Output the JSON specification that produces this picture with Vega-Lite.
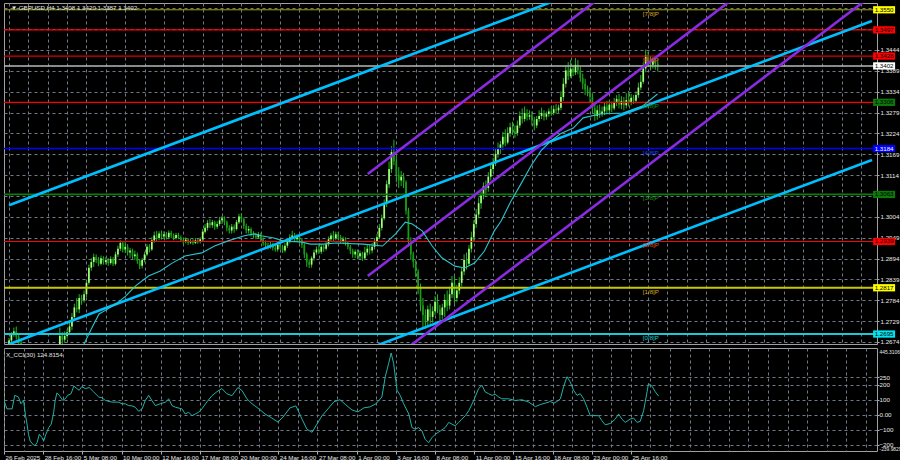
{
"$schema": "https://vega.github.io/schema/vega-lite/v6.json",
"background": "#000000",
"padding": {"left": 2, "top": 2, "right": 0, "bottom": 0},
"spacing": 1,
"config": {
  "view": {"stroke": "#A0A0A0", "strokeWidth": 1},
  "font": "Liberation Sans",
  "axis": {"labelColor": "#E8E8E8", "labelFont": "Liberation Sans", "labelFontSize": 6.2, "gridColor": "#6F7A86", "gridDash": [3, 3], "gridWidth": 1, "domain": false, "tickColor": "#B0B0B0"}
},
"datasets": {
  "candles": [
{"i":0,"o":1.2660,"h":1.2685,"l":1.2652,"c":1.2678},
{"i":1,"o":1.2678,"h":1.2700,"l":1.2672,"c":1.2693},
{"i":2,"o":1.2693,"h":1.2712,"l":1.2688,"c":1.2702},
{"i":3,"o":1.2702,"h":1.2715,"l":1.2680,"c":1.2688},
{"i":4,"o":1.2688,"h":1.2694,"l":1.2665,"c":1.2672},
{"i":5,"o":1.2672,"h":1.2678,"l":1.2652,"c":1.2660},
{"i":6,"o":1.2660,"h":1.2668,"l":1.2640,"c":1.2648},
{"i":7,"o":1.2648,"h":1.2662,"l":1.2642,"c":1.2655},
{"i":8,"o":1.2655,"h":1.2660,"l":1.2622,"c":1.2630},
{"i":9,"o":1.2630,"h":1.2636,"l":1.2598,"c":1.2605},
{"i":10,"o":1.2605,"h":1.2612,"l":1.2582,"c":1.2590},
{"i":11,"o":1.2590,"h":1.2605,"l":1.2584,"c":1.2598},
{"i":12,"o":1.2598,"h":1.2603,"l":1.2578,"c":1.2585},
{"i":13,"o":1.2585,"h":1.2608,"l":1.2580,"c":1.2600},
{"i":14,"o":1.2600,"h":1.2605,"l":1.2568,"c":1.2575},
{"i":15,"o":1.2575,"h":1.2582,"l":1.2558,"c":1.2565},
{"i":16,"o":1.2565,"h":1.2588,"l":1.2560,"c":1.2580},
{"i":17,"o":1.2580,"h":1.2590,"l":1.2572,"c":1.2582},
{"i":18,"o":1.2582,"h":1.2612,"l":1.2578,"c":1.2605},
{"i":19,"o":1.2605,"h":1.2628,"l":1.2598,"c":1.2620},
{"i":20,"o":1.2620,"h":1.2658,"l":1.2615,"c":1.2650},
{"i":21,"o":1.2650,"h":1.2712,"l":1.2645,"c":1.2690},
{"i":22,"o":1.2690,"h":1.2700,"l":1.2665,"c":1.2680},
{"i":23,"o":1.2680,"h":1.2702,"l":1.2672,"c":1.2690},
{"i":24,"o":1.2690,"h":1.2708,"l":1.2683,"c":1.2700},
{"i":25,"o":1.2700,"h":1.2728,"l":1.2695,"c":1.2715},
{"i":26,"o":1.2715,"h":1.2750,"l":1.2705,"c":1.2740},
{"i":27,"o":1.2740,"h":1.2775,"l":1.2732,"c":1.2765},
{"i":28,"o":1.2765,"h":1.2790,"l":1.2752,"c":1.2760},
{"i":29,"o":1.2760,"h":1.2800,"l":1.2750,"c":1.2790},
{"i":30,"o":1.2790,"h":1.2798,"l":1.2772,"c":1.2785},
{"i":31,"o":1.2785,"h":1.2810,"l":1.2778,"c":1.2800},
{"i":32,"o":1.2800,"h":1.2838,"l":1.2792,"c":1.2830},
{"i":33,"o":1.2830,"h":1.2878,"l":1.2825,"c":1.2870},
{"i":34,"o":1.2870,"h":1.2895,"l":1.2862,"c":1.2885},
{"i":35,"o":1.2885,"h":1.2907,"l":1.2872,"c":1.2898},
{"i":36,"o":1.2898,"h":1.2905,"l":1.2882,"c":1.2890},
{"i":37,"o":1.2890,"h":1.2898,"l":1.2874,"c":1.2880},
{"i":38,"o":1.2880,"h":1.2902,"l":1.2876,"c":1.2895},
{"i":39,"o":1.2895,"h":1.2900,"l":1.2878,"c":1.2885},
{"i":40,"o":1.2885,"h":1.2898,"l":1.2878,"c":1.2890},
{"i":41,"o":1.2890,"h":1.2895,"l":1.2875,"c":1.2882},
{"i":42,"o":1.2882,"h":1.2900,"l":1.2878,"c":1.2893},
{"i":43,"o":1.2893,"h":1.2898,"l":1.2874,"c":1.2880},
{"i":44,"o":1.2880,"h":1.2912,"l":1.2876,"c":1.2905},
{"i":45,"o":1.2905,"h":1.2928,"l":1.2898,"c":1.2920},
{"i":46,"o":1.2920,"h":1.2942,"l":1.2914,"c":1.2935},
{"i":47,"o":1.2935,"h":1.2940,"l":1.2910,"c":1.2918},
{"i":48,"o":1.2918,"h":1.2940,"l":1.2908,"c":1.2925},
{"i":49,"o":1.2925,"h":1.2932,"l":1.2902,"c":1.2910},
{"i":50,"o":1.2910,"h":1.2922,"l":1.2895,"c":1.2915},
{"i":51,"o":1.2915,"h":1.2920,"l":1.2892,"c":1.2900},
{"i":52,"o":1.2900,"h":1.2915,"l":1.2890,"c":1.2905},
{"i":53,"o":1.2905,"h":1.2910,"l":1.2880,"c":1.2888},
{"i":54,"o":1.2888,"h":1.2893,"l":1.2866,"c":1.2875},
{"i":55,"o":1.2875,"h":1.2896,"l":1.2868,"c":1.2890},
{"i":56,"o":1.2890,"h":1.2912,"l":1.2884,"c":1.2905},
{"i":57,"o":1.2905,"h":1.2932,"l":1.2900,"c":1.2925},
{"i":58,"o":1.2925,"h":1.2932,"l":1.2910,"c":1.2918},
{"i":59,"o":1.2918,"h":1.2950,"l":1.2914,"c":1.2942},
{"i":60,"o":1.2942,"h":1.2965,"l":1.2936,"c":1.2955},
{"i":61,"o":1.2955,"h":1.2967,"l":1.2940,"c":1.2948},
{"i":62,"o":1.2948,"h":1.2966,"l":1.2942,"c":1.2960},
{"i":63,"o":1.2960,"h":1.2968,"l":1.2944,"c":1.2952},
{"i":64,"o":1.2952,"h":1.2966,"l":1.2945,"c":1.2958},
{"i":65,"o":1.2958,"h":1.2964,"l":1.2944,"c":1.2950},
{"i":66,"o":1.2950,"h":1.2968,"l":1.2945,"c":1.2962},
{"i":67,"o":1.2962,"h":1.2967,"l":1.2948,"c":1.2955},
{"i":68,"o":1.2955,"h":1.2960,"l":1.2942,"c":1.2948},
{"i":69,"o":1.2948,"h":1.2962,"l":1.2944,"c":1.2956},
{"i":70,"o":1.2956,"h":1.2962,"l":1.2945,"c":1.2950},
{"i":71,"o":1.2950,"h":1.2955,"l":1.2938,"c":1.2942},
{"i":72,"o":1.2942,"h":1.2948,"l":1.2932,"c":1.2938},
{"i":73,"o":1.2938,"h":1.2950,"l":1.2934,"c":1.2944},
{"i":74,"o":1.2944,"h":1.2948,"l":1.2930,"c":1.2936},
{"i":75,"o":1.2936,"h":1.2946,"l":1.2932,"c":1.2940},
{"i":76,"o":1.2940,"h":1.2945,"l":1.2930,"c":1.2935},
{"i":77,"o":1.2935,"h":1.2948,"l":1.2932,"c":1.2942},
{"i":78,"o":1.2942,"h":1.2947,"l":1.2933,"c":1.2938},
{"i":79,"o":1.2938,"h":1.2950,"l":1.2934,"c":1.2945},
{"i":80,"o":1.2945,"h":1.2972,"l":1.2940,"c":1.2965},
{"i":81,"o":1.2965,"h":1.2985,"l":1.2960,"c":1.2975},
{"i":82,"o":1.2975,"h":1.2995,"l":1.2968,"c":1.2988},
{"i":83,"o":1.2988,"h":1.2998,"l":1.2975,"c":1.2982},
{"i":84,"o":1.2982,"h":1.2996,"l":1.2975,"c":1.2990},
{"i":85,"o":1.2990,"h":1.2994,"l":1.2970,"c":1.2978},
{"i":86,"o":1.2978,"h":1.2992,"l":1.2972,"c":1.2985},
{"i":87,"o":1.2985,"h":1.3004,"l":1.2980,"c":1.2995},
{"i":88,"o":1.2995,"h":1.3006,"l":1.2985,"c":1.3000},
{"i":89,"o":1.3000,"h":1.3005,"l":1.2982,"c":1.2990},
{"i":90,"o":1.2990,"h":1.2994,"l":1.2966,"c":1.2975},
{"i":91,"o":1.2975,"h":1.2982,"l":1.2960,"c":1.2968},
{"i":92,"o":1.2968,"h":1.2985,"l":1.2960,"c":1.2978},
{"i":93,"o":1.2978,"h":1.2984,"l":1.2962,"c":1.2972},
{"i":94,"o":1.2972,"h":1.2996,"l":1.2968,"c":1.2990},
{"i":95,"o":1.2990,"h":1.3012,"l":1.2985,"c":1.3005},
{"i":96,"o":1.3005,"h":1.3014,"l":1.2990,"c":1.2998},
{"i":97,"o":1.2998,"h":1.3002,"l":1.2972,"c":1.2980},
{"i":98,"o":1.2980,"h":1.2986,"l":1.2960,"c":1.2968},
{"i":99,"o":1.2968,"h":1.2980,"l":1.2960,"c":1.2972},
{"i":100,"o":1.2972,"h":1.2976,"l":1.2952,"c":1.2960},
{"i":101,"o":1.2960,"h":1.2966,"l":1.2948,"c":1.2955},
{"i":102,"o":1.2955,"h":1.2962,"l":1.2945,"c":1.2950},
{"i":103,"o":1.2950,"h":1.2964,"l":1.2946,"c":1.2958},
{"i":104,"o":1.2958,"h":1.2962,"l":1.2940,"c":1.2945},
{"i":105,"o":1.2945,"h":1.2950,"l":1.2928,"c":1.2935},
{"i":106,"o":1.2935,"h":1.2942,"l":1.2922,"c":1.2930},
{"i":107,"o":1.2930,"h":1.2936,"l":1.2918,"c":1.2925},
{"i":108,"o":1.2925,"h":1.2938,"l":1.2920,"c":1.2930},
{"i":109,"o":1.2930,"h":1.2936,"l":1.2915,"c":1.2922},
{"i":110,"o":1.2922,"h":1.2930,"l":1.2912,"c":1.2918},
{"i":111,"o":1.2918,"h":1.2940,"l":1.2912,"c":1.2930},
{"i":112,"o":1.2930,"h":1.2945,"l":1.2918,"c":1.2925},
{"i":113,"o":1.2925,"h":1.2930,"l":1.2909,"c":1.2915},
{"i":114,"o":1.2915,"h":1.2935,"l":1.2910,"c":1.2928},
{"i":115,"o":1.2928,"h":1.2946,"l":1.2922,"c":1.2940},
{"i":116,"o":1.2940,"h":1.2958,"l":1.2934,"c":1.2950},
{"i":117,"o":1.2950,"h":1.2967,"l":1.2944,"c":1.2955},
{"i":118,"o":1.2955,"h":1.2962,"l":1.2938,"c":1.2945},
{"i":119,"o":1.2945,"h":1.2958,"l":1.2938,"c":1.2950},
{"i":120,"o":1.2950,"h":1.2956,"l":1.2934,"c":1.2942},
{"i":121,"o":1.2942,"h":1.2948,"l":1.2922,"c":1.2930},
{"i":122,"o":1.2930,"h":1.2934,"l":1.2895,"c":1.2905},
{"i":123,"o":1.2905,"h":1.2910,"l":1.2872,"c":1.2885},
{"i":124,"o":1.2885,"h":1.2892,"l":1.2869,"c":1.2878},
{"i":125,"o":1.2878,"h":1.2900,"l":1.2870,"c":1.2895},
{"i":126,"o":1.2895,"h":1.2918,"l":1.2888,"c":1.2910},
{"i":127,"o":1.2910,"h":1.2926,"l":1.2904,"c":1.2918},
{"i":128,"o":1.2918,"h":1.2930,"l":1.2906,"c":1.2912},
{"i":129,"o":1.2912,"h":1.2932,"l":1.2906,"c":1.2925},
{"i":130,"o":1.2925,"h":1.2930,"l":1.2912,"c":1.2920},
{"i":131,"o":1.2920,"h":1.2940,"l":1.2915,"c":1.2932},
{"i":132,"o":1.2932,"h":1.2952,"l":1.2926,"c":1.2945},
{"i":133,"o":1.2945,"h":1.2962,"l":1.2940,"c":1.2955},
{"i":134,"o":1.2955,"h":1.2967,"l":1.2940,"c":1.2948},
{"i":135,"o":1.2948,"h":1.2965,"l":1.2942,"c":1.2958},
{"i":136,"o":1.2958,"h":1.2964,"l":1.2944,"c":1.2950},
{"i":137,"o":1.2950,"h":1.2956,"l":1.2934,"c":1.2940},
{"i":138,"o":1.2940,"h":1.2952,"l":1.2932,"c":1.2945},
{"i":139,"o":1.2945,"h":1.2950,"l":1.2928,"c":1.2935},
{"i":140,"o":1.2935,"h":1.2940,"l":1.2918,"c":1.2925},
{"i":141,"o":1.2925,"h":1.2930,"l":1.2906,"c":1.2915},
{"i":142,"o":1.2915,"h":1.2920,"l":1.2896,"c":1.2905},
{"i":143,"o":1.2905,"h":1.2918,"l":1.2895,"c":1.2912},
{"i":144,"o":1.2912,"h":1.2918,"l":1.2892,"c":1.2900},
{"i":145,"o":1.2900,"h":1.2915,"l":1.2890,"c":1.2908},
{"i":146,"o":1.2908,"h":1.2912,"l":1.2888,"c":1.2895},
{"i":147,"o":1.2895,"h":1.2925,"l":1.2890,"c":1.2910},
{"i":148,"o":1.2910,"h":1.2930,"l":1.2902,"c":1.2920},
{"i":149,"o":1.2920,"h":1.2932,"l":1.2905,"c":1.2915},
{"i":150,"o":1.2915,"h":1.2935,"l":1.2908,"c":1.2925},
{"i":151,"o":1.2925,"h":1.2948,"l":1.2918,"c":1.2940},
{"i":152,"o":1.2940,"h":1.2958,"l":1.2932,"c":1.2950},
{"i":153,"o":1.2950,"h":1.2985,"l":1.2945,"c":1.2975},
{"i":154,"o":1.2975,"h":1.3010,"l":1.2968,"c":1.3000},
{"i":155,"o":1.3000,"h":1.3050,"l":1.2995,"c":1.3040},
{"i":156,"o":1.3040,"h":1.3100,"l":1.3030,"c":1.3090},
{"i":157,"o":1.3090,"h":1.3150,"l":1.3080,"c":1.3130},
{"i":158,"o":1.3130,"h":1.3190,"l":1.3120,"c":1.3175},
{"i":159,"o":1.3175,"h":1.3207,"l":1.3140,"c":1.3150},
{"i":160,"o":1.3150,"h":1.3165,"l":1.3095,"c":1.3115},
{"i":161,"o":1.3115,"h":1.3135,"l":1.3080,"c":1.3100},
{"i":162,"o":1.3100,"h":1.3125,"l":1.3085,"c":1.3110},
{"i":163,"o":1.3110,"h":1.3120,"l":1.3080,"c":1.3095},
{"i":164,"o":1.3095,"h":1.3100,"l":1.3010,"c":1.3020},
{"i":165,"o":1.3020,"h":1.3028,"l":1.2925,"c":1.2940},
{"i":166,"o":1.2940,"h":1.2950,"l":1.2890,"c":1.2905},
{"i":167,"o":1.2905,"h":1.2912,"l":1.2870,"c":1.2885},
{"i":168,"o":1.2880,"h":1.2890,"l":1.2845,"c":1.2860},
{"i":169,"o":1.2860,"h":1.2866,"l":1.2800,"c":1.2820},
{"i":170,"o":1.2820,"h":1.2828,"l":1.2755,"c":1.2770},
{"i":171,"o":1.2770,"h":1.2790,"l":1.2712,"c":1.2745},
{"i":172,"o":1.2745,"h":1.2760,"l":1.2709,"c":1.2730},
{"i":173,"o":1.2730,"h":1.2770,"l":1.2715,"c":1.2760},
{"i":174,"o":1.2760,"h":1.2775,"l":1.2722,"c":1.2740},
{"i":175,"o":1.2740,"h":1.2768,"l":1.2725,"c":1.2755},
{"i":176,"o":1.2755,"h":1.2795,"l":1.2745,"c":1.2780},
{"i":177,"o":1.2780,"h":1.2800,"l":1.2750,"c":1.2760},
{"i":178,"o":1.2760,"h":1.2772,"l":1.2730,"c":1.2745},
{"i":179,"o":1.2745,"h":1.2775,"l":1.2735,"c":1.2765},
{"i":180,"o":1.2765,"h":1.2800,"l":1.2740,"c":1.2785},
{"i":181,"o":1.2785,"h":1.2810,"l":1.2755,"c":1.2770},
{"i":182,"o":1.2770,"h":1.2820,"l":1.2760,"c":1.2800},
{"i":183,"o":1.2800,"h":1.2848,"l":1.2790,"c":1.2830},
{"i":184,"o":1.2830,"h":1.2850,"l":1.2775,"c":1.2790},
{"i":185,"o":1.2790,"h":1.2825,"l":1.2780,"c":1.2810},
{"i":186,"o":1.2810,"h":1.2845,"l":1.2800,"c":1.2830},
{"i":187,"o":1.2830,"h":1.2870,"l":1.2820,"c":1.2860},
{"i":188,"o":1.2860,"h":1.2905,"l":1.2850,"c":1.2890},
{"i":189,"o":1.2890,"h":1.2910,"l":1.2865,"c":1.2880},
{"i":190,"o":1.2880,"h":1.2930,"l":1.2875,"c":1.2920},
{"i":191,"o":1.2920,"h":1.2965,"l":1.2910,"c":1.2950},
{"i":192,"o":1.2950,"h":1.2995,"l":1.2940,"c":1.2985},
{"i":193,"o":1.2985,"h":1.3025,"l":1.2975,"c":1.3010},
{"i":194,"o":1.3010,"h":1.3055,"l":1.3000,"c":1.3040},
{"i":195,"o":1.3040,"h":1.3070,"l":1.3025,"c":1.3060},
{"i":196,"o":1.3060,"h":1.3095,"l":1.3050,"c":1.3085},
{"i":197,"o":1.3085,"h":1.3100,"l":1.3060,"c":1.3075},
{"i":198,"o":1.3080,"h":1.3122,"l":1.3070,"c":1.3110},
{"i":199,"o":1.3110,"h":1.3143,"l":1.3100,"c":1.3130},
{"i":200,"o":1.3130,"h":1.3160,"l":1.3120,"c":1.3145},
{"i":201,"o":1.3145,"h":1.3185,"l":1.3138,"c":1.3170},
{"i":202,"o":1.3170,"h":1.3200,"l":1.3160,"c":1.3185},
{"i":203,"o":1.3185,"h":1.3204,"l":1.3170,"c":1.3195},
{"i":204,"o":1.3195,"h":1.3228,"l":1.3180,"c":1.3215},
{"i":205,"o":1.3215,"h":1.3235,"l":1.3190,"c":1.3200},
{"i":206,"o":1.3200,"h":1.3240,"l":1.3195,"c":1.3225},
{"i":207,"o":1.3225,"h":1.3252,"l":1.3215,"c":1.3240},
{"i":208,"o":1.3240,"h":1.3255,"l":1.3220,"c":1.3230},
{"i":209,"o":1.3230,"h":1.3245,"l":1.3212,"c":1.3225},
{"i":210,"o":1.3225,"h":1.3258,"l":1.3218,"c":1.3245},
{"i":211,"o":1.3245,"h":1.3282,"l":1.3238,"c":1.3270},
{"i":212,"o":1.3270,"h":1.3290,"l":1.3250,"c":1.3262},
{"i":213,"o":1.3262,"h":1.3295,"l":1.3255,"c":1.3278},
{"i":214,"o":1.3278,"h":1.3288,"l":1.3258,"c":1.3268},
{"i":215,"o":1.3268,"h":1.3285,"l":1.3260,"c":1.3272},
{"i":216,"o":1.3272,"h":1.3282,"l":1.3245,"c":1.3260},
{"i":217,"o":1.3260,"h":1.3268,"l":1.3232,"c":1.3245},
{"i":218,"o":1.3245,"h":1.3270,"l":1.3238,"c":1.3262},
{"i":219,"o":1.3262,"h":1.3285,"l":1.3255,"c":1.3270},
{"i":220,"o":1.3270,"h":1.3292,"l":1.3262,"c":1.3278},
{"i":221,"o":1.3278,"h":1.3285,"l":1.3258,"c":1.3268},
{"i":222,"o":1.3268,"h":1.3282,"l":1.3260,"c":1.3275},
{"i":223,"o":1.3275,"h":1.3290,"l":1.3268,"c":1.3282},
{"i":224,"o":1.3282,"h":1.3295,"l":1.3270,"c":1.3278},
{"i":225,"o":1.3278,"h":1.3298,"l":1.3272,"c":1.3288},
{"i":226,"o":1.3288,"h":1.3302,"l":1.3276,"c":1.3285},
{"i":227,"o":1.3285,"h":1.3300,"l":1.3278,"c":1.3292},
{"i":228,"o":1.3292,"h":1.3335,"l":1.3285,"c":1.3320},
{"i":229,"o":1.3320,"h":1.3370,"l":1.3310,"c":1.3355},
{"i":230,"o":1.3355,"h":1.3402,"l":1.3345,"c":1.3390},
{"i":231,"o":1.3390,"h":1.3412,"l":1.3365,"c":1.3375},
{"i":232,"o":1.3375,"h":1.3418,"l":1.3370,"c":1.3395},
{"i":233,"o":1.3395,"h":1.3405,"l":1.3375,"c":1.3385},
{"i":234,"o":1.3385,"h":1.3423,"l":1.3378,"c":1.3405},
{"i":235,"o":1.3405,"h":1.3418,"l":1.3380,"c":1.3390},
{"i":236,"o":1.3390,"h":1.3400,"l":1.3360,"c":1.3370},
{"i":237,"o":1.3370,"h":1.3382,"l":1.3340,"c":1.3355},
{"i":238,"o":1.3355,"h":1.3368,"l":1.3325,"c":1.3340},
{"i":239,"o":1.3340,"h":1.3350,"l":1.3322,"c":1.3335},
{"i":240,"o":1.3335,"h":1.3345,"l":1.3305,"c":1.3320},
{"i":241,"o":1.3320,"h":1.3330,"l":1.3275,"c":1.3290},
{"i":242,"o":1.3290,"h":1.3300,"l":1.3257,"c":1.3270},
{"i":243,"o":1.3270,"h":1.3298,"l":1.3260,"c":1.3285},
{"i":244,"o":1.3285,"h":1.3300,"l":1.3265,"c":1.3275},
{"i":245,"o":1.3275,"h":1.3295,"l":1.3268,"c":1.3282},
{"i":246,"o":1.3282,"h":1.3305,"l":1.3272,"c":1.3295},
{"i":247,"o":1.3295,"h":1.3310,"l":1.3275,"c":1.3285},
{"i":248,"o":1.3285,"h":1.3312,"l":1.3278,"c":1.3300},
{"i":249,"o":1.3300,"h":1.3308,"l":1.3280,"c":1.3290},
{"i":250,"o":1.3290,"h":1.3318,"l":1.3285,"c":1.3305},
{"i":251,"o":1.3305,"h":1.3325,"l":1.3296,"c":1.3315},
{"i":252,"o":1.3315,"h":1.3328,"l":1.3290,"c":1.3300},
{"i":253,"o":1.3300,"h":1.3322,"l":1.3288,"c":1.3310},
{"i":254,"o":1.3310,"h":1.3320,"l":1.3285,"c":1.3298},
{"i":255,"o":1.3298,"h":1.3330,"l":1.3290,"c":1.3312},
{"i":256,"o":1.3312,"h":1.3336,"l":1.3295,"c":1.3305},
{"i":257,"o":1.3305,"h":1.3328,"l":1.3298,"c":1.3318},
{"i":258,"o":1.3318,"h":1.3325,"l":1.3302,"c":1.3310},
{"i":259,"o":1.3310,"h":1.3335,"l":1.3303,"c":1.3325},
{"i":260,"o":1.3325,"h":1.3358,"l":1.3318,"c":1.3345},
{"i":261,"o":1.3345,"h":1.3378,"l":1.3338,"c":1.3360},
{"i":262,"o":1.3360,"h":1.3410,"l":1.3355,"c":1.3395},
{"i":263,"o":1.3395,"h":1.3445,"l":1.3385,"c":1.3430},
{"i":264,"o":1.3430,"h":1.3440,"l":1.3400,"c":1.3415},
{"i":265,"o":1.3415,"h":1.3428,"l":1.3390,"c":1.3405},
{"i":266,"o":1.3405,"h":1.3425,"l":1.3395,"c":1.3418},
{"i":267,"o":1.3418,"h":1.3428,"l":1.3392,"c":1.3408},
{"i":268,"o":1.3408,"h":1.3420,"l":1.3387,"c":1.3402}
  ],
  "ma": [
{"i":20,"p":1.2625},{"i":26,"p":1.2648},{"i":31,"p":1.2669},{"i":34.3,"p":1.2712},{"i":37.2,"p":1.2748},{"i":40,"p":1.2758},{"i":44.1,"p":1.2774},{"i":48.2,"p":1.2795},{"i":52.3,"p":1.2822},{"i":57.6,"p":1.2848},{"i":62.5,"p":1.2861},{"i":67.4,"p":1.2882},{"i":72.7,"p":1.2901},{"i":79.6,"p":1.2909},{"i":84.9,"p":1.2927},{"i":90.2,"p":1.2940},{"i":97.2,"p":1.2954},{"i":101.3,"p":1.2959},{"i":104.1,"p":1.2954},{"i":109.4,"p":1.2948},{"i":113.5,"p":1.2940},{"i":120.5,"p":1.2938},{"i":124.5,"p":1.2932},{"i":129.8,"p":1.2932},{"i":135.2,"p":1.2935},{"i":146.2,"p":1.2932},{"i":154.3,"p":1.2927},{"i":159.7,"p":1.2959},{"i":163.7,"p":1.2990},{"i":166.6,"p":1.2985},{"i":170.7,"p":1.2967},{"i":174.8,"p":1.2927},{"i":178.8,"p":1.2896},{"i":184.2,"p":1.2874},{"i":188.2,"p":1.2869},{"i":192.3,"p":1.2882},{"i":196.4,"p":1.2914},{"i":200.5,"p":1.2967},{"i":203.3,"p":1.2993},{"i":207.4,"p":1.3046},{"i":211.5,"p":1.3091},{"i":215.6,"p":1.3138},{"i":219.7,"p":1.3178},{"i":223.8,"p":1.3204},{"i":227.8,"p":1.3223},{"i":233.1,"p":1.3238},{"i":237.2,"p":1.3265},{"i":244.2,"p":1.3275},{"i":253.6,"p":1.3278},{"i":261.7,"p":1.3296},{"i":267.9,"p":1.3328}
  ],
  "cci": [
{"i":0,"v":96},{"i":1.2,"v":40},{"i":3.3,"v":40},{"i":4.4,"v":130},{"i":5.9,"v":119},{"i":6.9,"v":74},{"i":8,"v":96},{"i":8.7,"v":6},{"i":9.4,"v":-61},{"i":10,"v":-129},{"i":10.7,"v":-174},{"i":12.1,"v":-201},{"i":12.7,"v":-203},{"i":13.5,"v":-185},{"i":14.4,"v":-129},{"i":15.5,"v":-151},{"i":16.2,"v":-174},{"i":17.1,"v":-129},{"i":18.3,"v":-84},{"i":19.3,"v":-61},{"i":20.3,"v":18},{"i":20.9,"v":96},{"i":21.6,"v":146},{"i":22.6,"v":130},{"i":24,"v":96},{"i":25,"v":107},{"i":26,"v":130},{"i":27.4,"v":141},{"i":28.5,"v":192},{"i":29.8,"v":175},{"i":30.7,"v":164},{"i":31.8,"v":189},{"i":33.2,"v":175},{"i":34.8,"v":182},{"i":36.6,"v":153},{"i":38.7,"v":119},{"i":40,"v":114},{"i":41.4,"v":96},{"i":44.1,"v":85},{"i":46.8,"v":85},{"i":48.2,"v":74},{"i":49.5,"v":74},{"i":50.9,"v":62},{"i":52.3,"v":60},{"i":53.6,"v":51},{"i":55,"v":24},{"i":56.4,"v":40},{"i":57.7,"v":96},{"i":59.1,"v":130},{"i":60.4,"v":96},{"i":61.8,"v":62},{"i":63.8,"v":74},{"i":65.9,"v":85},{"i":67.3,"v":107},{"i":68.6,"v":62},{"i":70,"v":51},{"i":72.7,"v":40},{"i":74,"v":6},{"i":75.4,"v":18},{"i":76.8,"v":-5},{"i":78.1,"v":6},{"i":79.5,"v":18},{"i":80.8,"v":40},{"i":82.9,"v":87},{"i":84.9,"v":128},{"i":87,"v":155},{"i":89,"v":175},{"i":91,"v":141},{"i":93.1,"v":128},{"i":95.5,"v":182},{"i":97.2,"v":162},{"i":99.2,"v":107},{"i":101.3,"v":74},{"i":104.1,"v":40},{"i":106.6,"v":6},{"i":109.4,"v":-21},{"i":111.9,"v":-48},{"i":114.3,"v":-7},{"i":116.8,"v":47},{"i":119.2,"v":60},{"i":121.7,"v":-28},{"i":123.7,"v":-95},{"i":125.8,"v":-116},{"i":127.8,"v":-61},{"i":129.8,"v":-7},{"i":132.3,"v":40},{"i":134.7,"v":87},{"i":137.2,"v":101},{"i":139.6,"v":67},{"i":142.1,"v":33},{"i":144.5,"v":20},{"i":147,"v":47},{"i":149.4,"v":53},{"i":151.9,"v":74},{"i":154.3,"v":119},{"i":155.7,"v":254},{"i":157.1,"v":344},{"i":158.1,"v":412},{"i":159.1,"v":344},{"i":160.5,"v":164},{"i":161.8,"v":130},{"i":163.2,"v":74},{"i":165.3,"v":6},{"i":166.6,"v":-84},{"i":168,"v":-95},{"i":169.3,"v":-84},{"i":170.7,"v":-107},{"i":172,"v":-163},{"i":173.4,"v":-185},{"i":174.8,"v":-151},{"i":176.1,"v":-129},{"i":178.2,"v":-107},{"i":180.2,"v":-84},{"i":181.6,"v":-50},{"i":182.9,"v":-61},{"i":184.3,"v":-73},{"i":185.7,"v":-50},{"i":187,"v":-28},{"i":188.4,"v":-5},{"i":189.8,"v":28},{"i":191.8,"v":96},{"i":193.8,"v":175},{"i":195.2,"v":197},{"i":196.5,"v":153},{"i":197.9,"v":141},{"i":199.3,"v":130},{"i":200.6,"v":137},{"i":202,"v":119},{"i":203.3,"v":107},{"i":206.1,"v":107},{"i":208.8,"v":96},{"i":211.5,"v":101},{"i":214.3,"v":85},{"i":217,"v":55},{"i":219,"v":69},{"i":221,"v":78},{"i":223.1,"v":89},{"i":224.5,"v":78},{"i":225.8,"v":89},{"i":227.2,"v":107},{"i":228.5,"v":187},{"i":229.9,"v":254},{"i":231.2,"v":220},{"i":232.6,"v":164},{"i":234,"v":130},{"i":235.3,"v":141},{"i":236.7,"v":107},{"i":238.1,"v":51},{"i":239.4,"v":-5},{"i":240.8,"v":-5},{"i":242.8,"v":-5},{"i":244.2,"v":-39},{"i":245.5,"v":-66},{"i":247.6,"v":-57},{"i":249.6,"v":-28},{"i":251,"v":6},{"i":252.3,"v":-28},{"i":253.7,"v":-50},{"i":255.7,"v":-28},{"i":257.1,"v":-21},{"i":258.5,"v":-50},{"i":259.8,"v":-43},{"i":261.2,"v":28},{"i":262.6,"v":153},{"i":263.2,"v":209},{"i":264.6,"v":191},{"i":266,"v":153},{"i":267.3,"v":124.8}
  ],
  "chan": [
{"n":"bu","i":0,"p":1.30345},{"n":"bu","i":356.5,"p":1.38871},
{"n":"bm","i":0,"p":1.2668},{"n":"bm","i":356.5,"p":1.35206},
{"n":"bl","i":0,"p":1.23015},{"n":"bl","i":356.5,"p":1.31541},
{"n":"pu","i":148.2,"p":1.3117},{"n":"pu","i":356.5,"p":1.4126},
{"n":"pm","i":148.2,"p":1.2848},{"n":"pm","i":356.5,"p":1.3857},
{"n":"pl","i":148.2,"p":1.2579},{"n":"pl","i":356.5,"p":1.3588}
  ],
  "lv": [
{"p":1.355,"k":"olive"},{"p":1.3497,"k":"red2"},{"p":1.3428,"k":"red1"},{"p":1.3402,"k":"gray"},{"p":1.3306,"k":"red2"},{"p":1.3184,"k":"blue"},{"p":1.3063,"k":"green"},{"p":1.2939,"k":"red2"},{"p":1.2817,"k":"yellow"},{"p":1.2695,"k":"cyan"}
  ],
  "mu": [
{"p":1.355,"t":"[7/8]P","k":"y"},{"p":1.3428,"t":"[6/8]P","k":"r"},{"p":1.3306,"t":"[5/8]P","k":"g"},{"p":1.3184,"t":"[4/8]P","k":"b"},{"p":1.3063,"t":"[3/8]P","k":"g"},{"p":1.2939,"t":"[2/8]P","k":"r"},{"p":1.2817,"t":"[1/8]P","k":"y"},{"p":1.2695,"t":"[0/8]P","k":"c"}
  ],
  "bx": [
{"p":1.355,"k":"y"},{"p":1.3497,"k":"r"},{"p":1.3428,"k":"r"},{"p":1.3402,"k":"w"},{"p":1.3306,"k":"g"},{"p":1.3184,"k":"b"},{"p":1.3063,"k":"g"},{"p":1.2939,"k":"r"},{"p":1.2817,"k":"y"},{"p":1.2695,"k":"c"}
  ]
},
"vconcat": [
{
  "width": 873,
  "height": 341,
  "resolve": {"scale": {"color": "independent", "strokeWidth": "independent"}},
  "layer": [
    {
      "data": {"name": "candles"},
      "mark": {"type": "rule", "clip": true, "color": "#22B522", "strokeWidth": 1},
      "encoding": {
        "x": {"field": "i", "type": "quantitative", "title": null, "scale": {"domain": [0, 356.5], "nice": false, "zero": false},
          "axis": {"values": [0,8,16,24,32,40,48,56,64,72,80,88,96,104,112,120,128,136,144,152,160,168,176,184,192,200,208,216,224,232,240,248,256,264,272,280,288,296,304,312,320,328,336,344,352], "tickCount": 200, "labels": false, "ticks": false, "grid": true, "minExtent": 0, "maxExtent": 0}},
        "y": {"field": "l", "type": "quantitative", "title": null, "scale": {"domain": [1.26687, 1.35679], "nice": false, "zero": false},
          "axis": {"orient": "right", "values": [1.2674,1.2729,1.2784,1.2839,1.2894,1.2949,1.3004,1.3059,1.3114,1.3169,1.3224,1.3279,1.3334,1.3389,1.3444,1.3499,1.3554], "tickCount": 100, "labelOverlap": false,
            "labelExpr": "(datum.value > 1.3055 && datum.value < 1.3065) || datum.value > 1.349 ? '' : format(datum.value, '.4f')",
            "labelPadding": 1, "tickSize": 2, "grid": true}},
        "y2": {"field": "h"}
      }
    },
    {
      "data": {"name": "candles"},
      "mark": {"type": "bar", "clip": true, "size": 1.7},
      "encoding": {
        "x": {"field": "i", "type": "quantitative", "title": null},
        "y": {"field": "o", "type": "quantitative", "title": null},
        "y2": {"field": "c"},
        "color": {"condition": {"test": "datum.c >= datum.o", "value": "#A6FF78"}, "value": "#14A014"}
      }
    },
    {
      "data": {"name": "lv"},
      "mark": {"type": "rule"},
      "encoding": {
        "y": {"field": "p", "type": "quantitative", "title": null},
        "color": {"field": "k", "type": "nominal", "legend": null, "scale": {"domain": ["olive","red2","red1","gray","blue","green","yellow","cyan"], "range": ["#A5A500","#FF0000","#E00000","#B8B8B8","#0000FF","#0E7A0E","#C8C800","#1EC8D2"]}},
        "strokeWidth": {"field": "k", "type": "nominal", "legend": null, "scale": {"domain": ["olive","red2","red1","gray","blue","green","yellow","cyan"], "range": [1,2,1,1,1.6,1,1,1]}}
      }
    },
    {
      "data": {"name": "chan"},
      "mark": {"type": "line", "clip": true},
      "encoding": {
        "x": {"field": "i", "type": "quantitative", "title": null},
        "y": {"field": "p", "type": "quantitative", "title": null},
        "detail": {"field": "n"},
        "color": {"field": "n", "type": "nominal", "legend": null, "scale": {"domain": ["bu","bm","bl","pu","pm","pl"], "range": ["#00BFFF","#00BFFF","#00BFFF","#8A2BE2","#8A2BE2","#8A2BE2"]}},
        "strokeWidth": {"field": "n", "type": "nominal", "legend": null, "scale": {"domain": ["bu","bm","bl","pu","pm","pl"], "range": [2.6,2.6,2.6,1.5,1.5,1.5]}}
      }
    },
    {
      "data": {"name": "ma"},
      "mark": {"type": "line", "clip": true, "color": "#2AC5CF", "strokeWidth": 1.1},
      "encoding": {
        "x": {"field": "i", "type": "quantitative", "title": null},
        "y": {"field": "p", "type": "quantitative", "title": null}
      }
    },
    {
      "data": {"name": "mu"},
      "mark": {"type": "text", "align": "left", "baseline": "top", "dy": 1, "fontSize": 6.2, "font": "Liberation Sans"},
      "encoding": {
        "x": {"datum": 261.8, "type": "quantitative", "title": null},
        "y": {"field": "p", "type": "quantitative", "title": null},
        "text": {"field": "t"},
        "color": {"field": "k", "type": "nominal", "legend": null, "scale": {"domain": ["y","r","g","b","c"], "range": ["#DDA820","#E04A1E","#1E8C1E","#2040FF","#20C0C8"]}}
      }
    },
    {
      "data": {"name": "bx"},
      "mark": {"type": "point", "shape": "M-1,-0.33H1V0.33H-1Z", "filled": true, "opacity": 1, "size": 484, "strokeWidth": 0},
      "encoding": {
        "x": {"datum": 361.5, "type": "quantitative", "title": null},
        "y": {"field": "p", "type": "quantitative", "title": null},
        "color": {"field": "k", "type": "nominal", "legend": null, "scale": {"domain": ["y","r","w","g","b","c"], "range": ["#FFFF00","#FF0000","#FFFFFF","#0B7A0B","#0000FF","#00E6F0"]}}
      }
    },
    {
      "data": {"name": "bx"},
      "mark": {"type": "text", "align": "center", "baseline": "middle", "fontSize": 6.2, "font": "Liberation Sans"},
      "encoding": {
        "x": {"datum": 361.5, "type": "quantitative", "title": null},
        "y": {"field": "p", "type": "quantitative", "title": null},
        "text": {"field": "p", "type": "quantitative", "format": ".4f"},
        "color": {"condition": {"test": "datum.k == 'b'", "value": "#FFFFFF"}, "value": "#000000"}
      }
    },
    {
      "data": {"values": [{}]},
      "mark": {"type": "text", "align": "left", "baseline": "middle", "fontSize": 6.2, "color": "#E6E6E6", "font": "Liberation Sans"},
      "encoding": {
        "x": {"datum": 0.8, "type": "quantitative", "title": null},
        "y": {"datum": 1.3555, "type": "quantitative", "title": null},
        "text": {"value": "▼ GBPUSD,H4  1.3408 1.3420 1.3387 1.3402"}
      }
    }
  ]
},
{
  "width": 873,
  "height": 103,
  "layer": [
    {
      "data": {"name": "cci"},
      "mark": {"type": "line", "color": "#20B2AA", "strokeWidth": 1, "clip": true},
      "encoding": {
        "x": {"field": "i", "type": "quantitative", "title": null, "scale": {"domain": [0, 356.5], "nice": false, "zero": false},
          "axis": {"values": [0,8,16,24,32,40,48,56,64,72,80,88,96,104,112,120,128,136,144,152,160,168,176,184,192,200,208,216,224,232,240,248,256,264,272,280,288,296,304,312,320,328,336,344,352], "tickCount": 200, "grid": true,
            "labelExpr": "datum.value % 16 == 0 && datum.value <= 256 ? ['26 Feb 2025','28 Feb 16:00','5 Mar 08:00','10 Mar 00:00','12 Mar 16:00','17 Mar 08:00','20 Mar 00:00','24 Mar 16:00','27 Mar 08:00','1 Apr 00:00','3 Apr 16:00','8 Apr 08:00','11 Apr 00:00','15 Apr 16:00','18 Apr 08:00','23 Apr 00:00','25 Apr 16:00'][datum.value / 16] : ''",
            "labelAlign": "left", "labelBaseline": "top", "labelPadding": 0, "labelOffset": 1, "labelOverlap": false, "labelFlush": false, "labelBound": false, "tickSize": 3,
            "tickOpacity": {"condition": {"test": "datum.value % 16 == 0 && datum.value <= 256", "value": 1}, "value": 0}}},
        "y": {"field": "v", "type": "quantitative", "title": null, "scale": {"domain": [-240.3, 445.31], "nice": false, "zero": false},
          "axis": {"orient": "right", "values": [-232, -200, -100, 0, 100, 200, 250, 418], "tickCount": 100, "labelOverlap": false,
            "labelExpr": "datum.value > 400 ? '445.3106' : (datum.value < -220 ? '-239.9829' : (datum.value == 0 ? '0.00' : format(datum.value, 'd')))",
            "labelFontSize": {"condition": {"test": "datum.value > 400 || datum.value < -220", "value": 4.9}, "value": 6.2},
            "gridOpacity": {"condition": {"test": "datum.value > 400 || datum.value < -220", "value": 0}, "value": 1},
            "tickOpacity": {"condition": {"test": "datum.value > 400 || datum.value < -220", "value": 0}, "value": 1},
            "labelPadding": 0, "tickSize": 2, "grid": true}}
      }
    },
    {
      "data": {"values": [{}]},
      "mark": {"type": "text", "align": "left", "baseline": "middle", "fontSize": 6.2, "color": "#E0E0E0", "font": "Liberation Sans"},
      "encoding": {
        "x": {"datum": 0.8, "type": "quantitative", "title": null},
        "y": {"datum": 399, "type": "quantitative", "title": null},
        "text": {"value": "X_CCI(30) 124.8154"}
      }
    }
  ]
}
]
}
